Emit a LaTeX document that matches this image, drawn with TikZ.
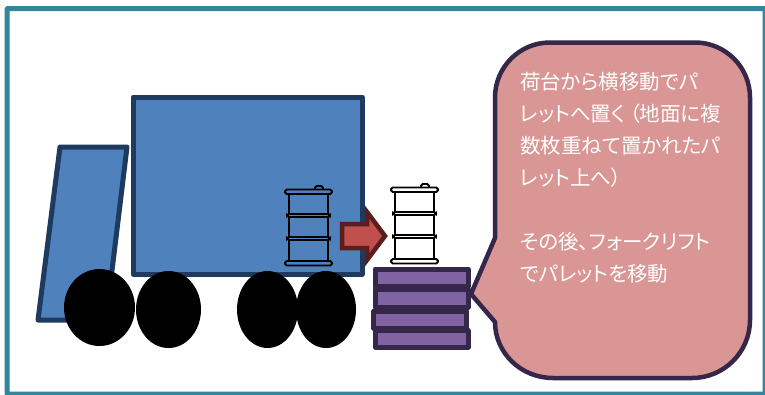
\documentclass[tikz,border=0pt]{standalone}
\usepackage{fontspec}
\newfontfamily\jp[RawFeature=+palt]{Noto Sans CJK JP}
\definecolor{frameteal}{HTML}{31859C}
\definecolor{bluefill}{HTML}{4F81BD}
\definecolor{bluedark}{HTML}{1F3A5F}
\definecolor{redfill}{HTML}{C0504D}
\definecolor{reddark}{HTML}{5A1E1E}
\definecolor{purplefill}{HTML}{8064A2}
\definecolor{purpledark}{HTML}{35274A}
\definecolor{pinkfill}{HTML}{D99694}
\tikzset{
  truckpart/.style={draw=bluedark,fill=bluefill,line width=5pt,line join=round},
  wheel/.style={fill=black},
  pallet/.style={draw=purpledark,fill=purplefill,line width=5pt,line join=round},
  barrelline/.style={draw=black,line width=2.6pt,line join=round,line cap=round},
  barrelrim/.style={draw=black,line width=1.9pt,rounded corners=1.8pt},
}
\newcommand{\barrelshape}[3]{%
  \begin{scope}[shift={(#1,#2)}]
    \fill[#3] (4,2) rectangle (43,74);
    \draw[barrelrim,fill=#3] (30,1) -- (30,-4) -- (38,-4) -- (38,1);
    \draw[barrelline] (4,5) -- (4,72) (43,5) -- (43,72);
    \draw[barrelrim,fill=#3] (0,-0.5) rectangle (47,4);
    \draw[barrelrim,fill=#3] (2,24) rectangle (45,27);
    \draw[barrelrim,fill=#3] (2,47) rectangle (45,50);
    \draw[barrelrim,fill=#3] (0,71) rectangle (47,75.5);
  \end{scope}}
\begin{document}
\begin{tikzpicture}[x=1pt,y=-1pt]
\useasboundingbox (0,0) rectangle (765,394);
\fill[white] (0,0) rectangle (765,394);
\draw[frameteal,line width=5pt,rounded corners=1pt] (7,8.5) rectangle (765,394);
% truck
\draw[truckpart] (60,147) -- (127,147) -- (106,320) -- (38,320) -- cycle;
\draw[truckpart] (133,97) rectangle (362,274);
\fill[wheel] (99.5,307.5) ellipse [x radius=35.5,y radius=38.5];
\fill[wheel] (168.5,309.5) ellipse [x radius=32.5,y radius=38.5];
\fill[wheel] (267.5,309.5) ellipse [x radius=30.5,y radius=38.5];
\fill[wheel] (326,309.5) ellipse [x radius=30,y radius=38.5];
% barrels
\barrelshape{285}{190}{bluefill}
\barrelshape{391}{188}{white}
% arrow
\draw[draw=reddark,fill=redfill,line width=4.5pt,line join=miter]
  (342,224) -- (367,224) -- (367,212) -- (385,236) -- (367,260) -- (367,248) -- (342,248) -- cycle;
% pallets
\draw[pallet] (375,269) rectangle (468,286.5);
\draw[pallet] (375,289) rectangle (468,307);
\draw[pallet] (373.5,311) rectangle (466.5,328);
\draw[pallet] (375,330.5) rectangle (468,347);
% callout
\draw[draw=purpledark,fill=pinkfill,line width=4.5pt,line join=round]
  (550,42.5) -- (695,42.5)
  arc[start angle=-90,end angle=0,x radius=55,y radius=55]
  -- (750,320)
  arc[start angle=0,end angle=90,x radius=58,y radius=58]
  -- (553,378)
  arc[start angle=90,end angle=180,x radius=58,y radius=56]
  -- (495,322) -- (471,294) -- (495,238) -- (495,97.5)
  arc[start angle=180,end angle=270,x radius=55,y radius=55]
  -- cycle;
\node[anchor=north west,inner sep=0pt,align=left,text=white,font=\jp\fontsize{20.5}{32}\selectfont] (note) at (520,72)
 {荷台から横移動でパ\\レットへ置く\hspace{4pt}（地面に複\\数枚重ねて置かれたパ\\レット上へ）\\\mbox{}\\その後、フォークリフト\\でパレットを移動};
\end{tikzpicture}
\end{document}
